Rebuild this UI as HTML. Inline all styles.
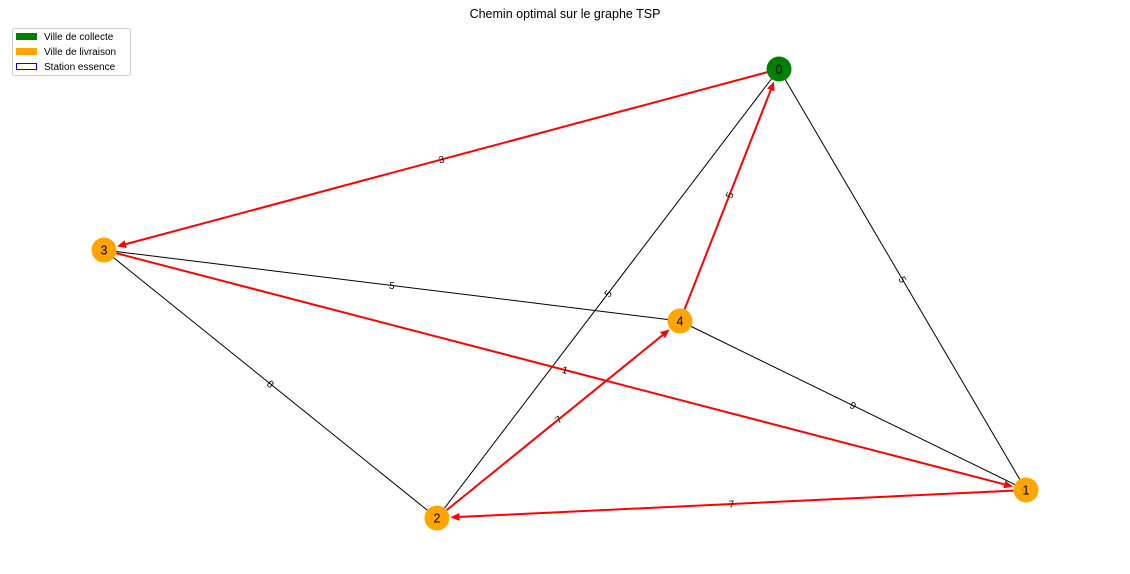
<!DOCTYPE html>
<html><head><meta charset="utf-8"><style>
body{margin:0;background:#fff;}
svg{display:block;font-family:"Liberation Sans","DejaVu Sans",sans-serif;}
</style></head><body>
<svg id="c" width="1130" height="574">
<text x="565" y="18" text-anchor="middle" font-size="12.5">Chemin optimal sur le graphe TSP</text>
<g>
<rect x="12.5" y="28.5" width="118" height="47" rx="2" fill="#fff" stroke="#ccc"/>
<rect x="16" y="33" width="21" height="7" fill="#008000"/>
<text x="44" y="40" font-size="10">Ville de collecte</text>
<rect x="16" y="48" width="21" height="7" fill="#ffa500"/>
<text x="44" y="55" font-size="10">Ville de livraison</text>
<rect x="16.5" y="63.5" width="20" height="6" fill="none" stroke="#0000ff"/>
<text x="44" y="70" font-size="10">Station essence</text>
</g>
<g id="edges"></g><g id="nodes"></g>
</svg>
<script>
const nodeIds=[0,1,2,3,4];
const nodeX=[779,1026,437,104,680];
const nodeY=[69,490,518,250,321];
const nodeType=["collecte","livraison","livraison","livraison","livraison"];
const edgeFrom=[0,0,3,3,4];
const edgeTo=[1,2,4,2,1];
const edgeW=[5,5,5,8,9];
const pathFrom=[0,3,1,2,4];
const pathTo=[3,1,2,4,0];
const pathW=[3,1,7,7,5];
const NS="http://www.w3.org/2000/svg";
const eg=document.getElementById('edges'), ng=document.getElementById('nodes');
const R=12.5;
function mk(t,a,p){const e=document.createElementNS(NS,t);for(const k in a)e.setAttribute(k,a[k]);p.appendChild(e);return e;}
function label(x1,y1,x2,y2,w){
  const mx=(x1+x2)/2,my=(y1+y2)/2;let ang=Math.atan2(y2-y1,x2-x1)*180/Math.PI;
  if(ang>90)ang-=180;if(ang<-90)ang+=180;
  const t=mk('text',{x:mx,y:my+3.5,'text-anchor':'middle','font-size':10,transform:`rotate(${ang} ${mx} ${my})`},eg);
  t.textContent=w;return t;
}
edgeFrom.forEach((f,i)=>{
  const t=edgeTo[i];
  const l=mk('line',{x1:nodeX[f],y1:nodeY[f],x2:nodeX[t],y2:nodeY[t],stroke:'#000','stroke-width':1},eg);
  
  
  const lb=label(nodeX[f],nodeY[f],nodeX[t],nodeY[t],edgeW[i]);
  
  
});
pathFrom.forEach((f,i)=>{
  const t=pathTo[i];
  const x1=nodeX[f],y1=nodeY[f],x2=nodeX[t],y2=nodeY[t];
  const d=Math.hypot(x2-x1,y2-y1),ux=(x2-x1)/d,uy=(y2-y1)/d;
  const sx=x1+ux*R,sy=y1+uy*R,ex=x2-ux*(R+1),ey=y2-uy*(R+1);
  const bx=ex-ux*9,by=ey-uy*9;
  const l=mk('line',{x1:sx,y1:sy,x2:bx,y2:by,stroke:'#ff0000','stroke-width':2},eg);
  
  
  const p=mk('polygon',{points:`${ex},${ey} ${bx-uy*4},${by+ux*4} ${bx+uy*4},${by-ux*4}`,fill:'#ff0000'},eg);
  
  
  const lb=label(x1,y1,x2,y2,pathW[i]);
  
  
});
nodeIds.forEach((id,i)=>{
  const c=mk('circle',{cx:nodeX[i],cy:nodeY[i],r:R,fill:nodeType[i]==='collecte'?'#008000':'#ffa500'},ng);
  
  
  const t=mk('text',{x:nodeX[i],y:nodeY[i]+4.5,'text-anchor':'middle','font-size':12.5},ng);
  t.textContent=id;
  
  
});
</script>
</body></html>
